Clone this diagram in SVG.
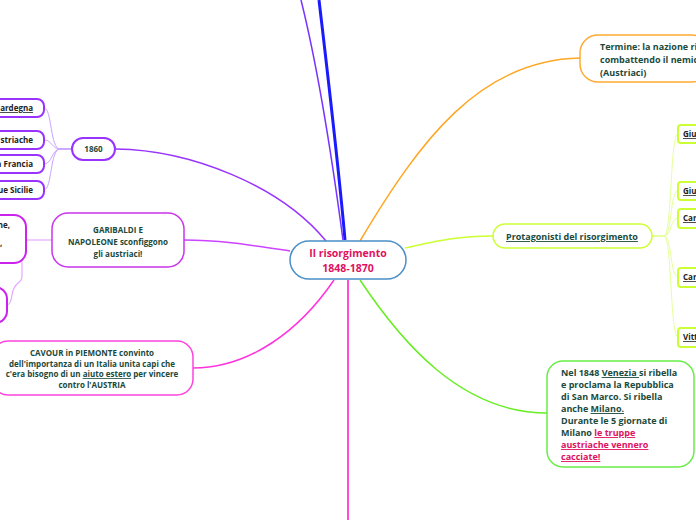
<svg xmlns="http://www.w3.org/2000/svg" width="696" height="520" viewBox="0 0 696 520">
<style>
text{font-family:"Open Sans","Noto Sans","Liberation Sans",sans-serif;font-weight:700;fill:#1b4a3c;}
.t9{font-size:9px;}
.t8{font-size:8px;}
.c{text-anchor:middle;}
.e{text-anchor:end;}
.u{text-decoration:underline;}
.red{fill:#e0115f;}
.blk{fill:#222;}
.con{fill:none;}
.box{fill:#fff;}
</style>
<rect width="696" height="520" fill="#fff"/>
<g id="connectors" class="con">
  <path d="M345,240 C338,160 326,60 319,0" stroke="#1a1aff" stroke-width="3"/>
  <path d="M343,240 C331,150 316,60 301,0" stroke="#7733ff" stroke-width="1.5"/>
  <path d="M326,241 C280,185 190,150 116,149" stroke="#9933ff" stroke-width="1.5"/>
  <path d="M360,241 C420,140 480,60 580,58" stroke="#ffa622" stroke-width="1.5"/>
  <path d="M405,248 C440,240 460,236 493,236" stroke="#ccff33" stroke-width="1.5"/>
  <path d="M360,280 C400,340 460,413 547,413" stroke="#66ee22" stroke-width="1.5"/>
  <path d="M348,280 L348,520" stroke="#ff11cc" stroke-width="1.5"/>
  <path d="M334,280 C300,330 250,368 193,368" stroke="#ff33dd" stroke-width="1.5"/>
  <path d="M290,251 C250,245 220,240 184,240" stroke="#cc44ff" stroke-width="1.5"/>
  <g stroke="#c9a3ff" stroke-width="1">
    <path d="M72,149 L60,149 C50,149 52,108 44,108"/>
    <path d="M72,149 L60,149 C52,149 52,140 44,140"/>
    <path d="M72,149 L60,149 C52,149 52,164 44,164"/>
    <path d="M72,149 L60,149 C50,149 52,190 44,190"/>
  </g>
  <g stroke="#e6a8ff" stroke-width="1.2">
    <path d="M52,240 L26,240"/>
    <path d="M22,262 L22,276 C22,285 14,280 12,295 C11,302 9,305 7,305"/>
  </g>
  <g stroke="#e5ff99" stroke-width="1">
    <path d="M652,236 L664,236 C672,236 670,134 678,134"/>
    <path d="M652,236 L664,236 C672,236 670,191 678,191"/>
    <path d="M652,236 L664,236 C672,236 670,218 678,218"/>
    <path d="M652,236 L664,236 C672,236 670,277 678,277"/>
    <path d="M652,236 L664,236 C672,236 670,337 678,337"/>
  </g>
</g>
<g id="center">
  <rect x="290" y="241" width="116" height="38" rx="19" class="box" stroke="#4a8fc8" stroke-width="1.5"/>
  <text x="348" y="257" class="c red" font-size="10.5">Il risorgimento</text>
  <text x="348" y="272" class="c red" font-size="10.5">1848-1870</text>
</g>
<g id="n1860">
  <rect x="72" y="138" width="43" height="22" rx="11" class="box" stroke="#9933ff" stroke-width="2"/>
  <text x="93.5" y="152" class="c t8">1860</text>
</g>
<g id="sardegna">
  <rect x="-12" y="99" width="56" height="18" rx="7" class="box" stroke="#9933ff" stroke-width="2"/>
  <text x="33" y="111" class="e t8 u blk">ardegna </text>
</g>
<g id="austriache">
  <rect x="-12" y="131" width="56" height="18" rx="7" class="box" stroke="#9933ff" stroke-width="2"/>
  <text x="33" y="143" class="e t8 blk">striache</text>
</g>
<g id="francia">
  <rect x="-12" y="155" width="56" height="18" rx="7" class="box" stroke="#9933ff" stroke-width="2"/>
  <text x="33" y="167" class="e t8 blk">a Francia</text>
</g>
<g id="sicilie">
  <rect x="-12" y="181" width="56" height="18" rx="7" class="box" stroke="#9933ff" stroke-width="2"/>
  <text x="33" y="193" class="e t8 blk">ue Sicilie</text>
</g>
<g id="garibaldi">
  <rect x="52" y="213" width="132" height="54" rx="16" class="box" stroke="#cc33ee" stroke-width="1.5"/>
  <text x="118" y="233" class="c t8">GARIBALDI E</text>
  <text x="118" y="245" class="c t8">NAPOLEONE sconfiggono</text>
  <text x="118" y="257" class="c t8">gli austriaci!</text>
</g>
<g id="gar-left1">
  <rect x="-20" y="215" width="46" height="48" rx="12" class="box" stroke="#cc22ee" stroke-width="2"/>
  <text x="10" y="228" class="e t8 blk">ne,</text>
  <text x="0" y="246" class="t8 blk">,</text>
</g>
<g id="gar-left2">
  <rect x="-30" y="287" width="37" height="36" rx="12" class="box" stroke="#cc22ee" stroke-width="2"/>
</g>
<g id="cavour">
  <rect x="-8" y="341" width="201" height="54" rx="16" class="box" stroke="#ff44dd" stroke-width="1.5"/>
  <text x="92" y="356" class="c t8">CAVOUR in PIEMONTE convinto</text>
  <text x="92" y="366.5" class="c t8">dell'importanza di un Italia unita capi che</text>
  <text x="92" y="377" class="c t8">c'era  bisogno di un <tspan class="u">aiuto estero</tspan> per vincere</text>
  <text x="92" y="387.5" class="c t8">contro l'AUSTRIA</text>
</g>
<g id="termine">
  <rect x="580" y="35" width="130" height="47" rx="18" class="box" stroke="#ffaa33" stroke-width="1.5"/>
  <text x="600" y="50" class="t9">Termine: la nazione ri</text>
  <text x="600" y="63" class="t9">combattendo il nemic</text>
  <text x="600" y="76" class="t9">(Austriaci)</text>
</g>
<g id="protagonisti">
  <rect x="493" y="224" width="159" height="24" rx="12" class="box" stroke="#ccff33" stroke-width="1.5"/>
  <text x="572" y="240" class="c t9 u">Protagonisti del risorgimento</text>
</g>
<g id="p1"><rect x="678" y="125" width="30" height="18" rx="3" class="box" stroke="#ccff33" stroke-width="2"/><text x="683" y="137" class="t8 u blk">Giu</text></g>
<g id="p2"><rect x="678" y="182" width="30" height="18" rx="3" class="box" stroke="#ccff33" stroke-width="2"/><text x="683" y="194" class="t8 u blk">Giu</text></g>
<g id="p3"><rect x="678" y="209" width="30" height="19" rx="3" class="box" stroke="#ccff33" stroke-width="2"/><text x="683" y="221" class="t8 u blk">Car</text></g>
<g id="p4"><rect x="678" y="268" width="30" height="19" rx="3" class="box" stroke="#ccff33" stroke-width="2"/><text x="683" y="280" class="t8 u blk">Car</text></g>
<g id="p5"><rect x="678" y="328" width="30" height="19" rx="3" class="box" stroke="#ccff33" stroke-width="2"/><text x="683" y="340" class="t8 u blk">Vitt</text></g>
<g id="venezia">
  <rect x="547" y="361" width="147" height="106" rx="16" class="box" stroke="#66ee44" stroke-width="1.5"/>
  <text x="561" y="376" class="t9">Nel 1848 <tspan class="u">Venezia </tspan>si ribella</text>
  <text x="561" y="388" class="t9">e proclama la Repubblica</text>
  <text x="561" y="400" class="t9">di San Marco.  Si ribella</text>
  <text x="561" y="412" class="t9">anche <tspan class="u">Milano.</tspan></text>
  <text x="561" y="424" class="t9">Durante le 5 giornate di</text>
  <text x="561" y="436" class="t9">Milano <tspan class="u red">le truppe </tspan></text>
  <text x="561" y="448" class="t9 u red">austriache vennero </text>
  <text x="561" y="460" class="t9 u red">cacciate!</text>
</g>
</svg>
